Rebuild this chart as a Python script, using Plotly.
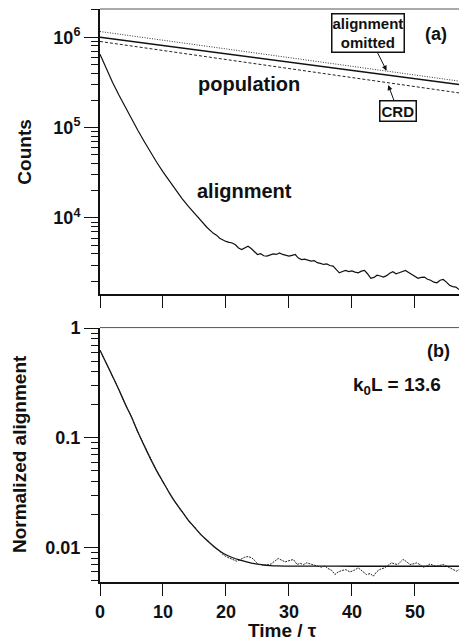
import plotly.graph_objects as go

# ---------------- data ----------------
# top panel: population decays (straight lines on log scale)
pop_t = [0, 57]
pop_solid = [1.0e6, 3.0e5]          # population
pop_omit = [1.156e6, 3.27e5]        # alignment omitted (dotted)
pop_crd = [8.97e5, 2.42e5]          # CRD (dashed)

# top panel: alignment counts
align_t = [0, 1, 2, 3, 4, 5, 6, 7, 8, 9, 10, 11, 12, 13, 14, 15, 16, 17, 18, 18.5,
           19.0, 19.5, 20.0, 20.5, 21.0, 21.5, 22.0, 22.5, 23.0, 23.5, 24.0, 24.5,
           25.0, 25.5, 26.0, 26.5, 27.0, 27.5, 28.0, 28.5, 29.0, 29.5, 30.0, 30.5,
           31.0, 31.5, 32.0, 32.5, 33.0, 33.5, 34.0, 34.5, 35.0, 35.5, 36.0, 36.5,
           37.0, 37.5, 38.0, 38.5, 39.0, 39.5, 40.0, 40.5, 41.0, 41.5, 42.0, 42.5,
           43.0, 43.5, 44.0, 44.5, 45.0, 45.5, 46.0, 46.5, 47.0, 47.5, 48.0, 48.5,
           49.0, 49.5, 50.0, 50.5, 51.0, 51.5, 52.0, 52.5, 53.0, 53.5, 54.0, 54.5,
           55.0, 55.5, 56.0, 56.5, 57.0]
align_counts = [646000, 447000, 316000, 229000, 168000, 124000, 93300, 70500, 53700,
                41400, 32400, 25600, 20400, 16500, 13500, 11200, 9330, 7850, 6760, 6450,
                5960, 5700, 5500, 5380, 5290, 5050, 4650, 4480, 4700, 4870, 4600, 4250,
                3940, 4020, 3820, 3780, 3900, 4000, 3950, 4100, 3950, 3850, 3780, 3860,
                3940, 3600, 3470, 3500, 3400, 3330, 3380, 3200, 3150, 3060, 3100, 2980,
                2930, 2700, 2470, 2560, 2630, 2550, 2600, 2520, 2470, 2580, 2630, 2400,
                2150, 2200, 2330, 2280, 2220, 2300, 2450, 2540, 2410, 2480, 2550, 2630,
                2500, 2380, 2250, 2150, 2200, 2220, 2100, 2050, 1950, 1920, 2050, 2090,
                1950, 1800, 1740, 1720, 1620]

# bottom panel: fit (solid)
fit_t = [0, 1, 2, 3, 4, 5, 6, 7, 8, 9, 10, 11, 12, 13, 14, 15, 16, 17, 18, 19, 20,
         21, 22, 23, 24, 25, 26, 27, 28, 30, 35, 40, 45, 50, 57]
fit_norm = [0.630, 0.479, 0.363, 0.275, 0.204, 0.155, 0.1135, 0.0851, 0.0646, 0.0501,
            0.0398, 0.0316, 0.0257, 0.0214, 0.0178, 0.0153, 0.0132, 0.0116, 0.01035,
            0.00933, 0.00861, 0.00813, 0.00776, 0.00750, 0.00724, 0.00708, 0.00695,
            0.00687, 0.00682, 0.00679, 0.00678, 0.00677, 0.00677, 0.00677, 0.00677]

# bottom panel: measured normalized alignment (dotted, noisy)
meas_t = [0, 1, 2, 3, 4, 5, 6, 7, 8, 9, 10, 11, 12, 13, 14, 15, 16, 17, 18,
          19.0, 19.6, 20.2, 20.8, 21.2, 21.7, 22.3, 23.0, 23.5, 24.1, 24.6, 25.1, 25.6,
          26.2, 26.7, 27.2, 27.8, 28.3, 28.8, 29.4, 30.0, 30.7, 31.3, 31.8, 32.3, 32.8,
          33.4, 33.9, 34.5, 35.2, 35.7, 36.2, 36.8, 37.3, 37.8, 38.4, 39.0, 39.7, 40.3,
          41.0, 41.6, 42.3, 42.9, 43.4, 43.9, 44.4, 45.2, 45.8, 46.3, 46.8, 47.3, 47.7,
          48.1, 48.6, 49.2, 49.7, 50.3, 50.8, 51.3, 51.9, 52.4, 52.9, 53.4, 54.0, 54.5,
          55.0, 55.6, 56.1, 56.6, 57.0]
meas_norm = [0.628, 0.481, 0.361, 0.276, 0.203, 0.156, 0.1130, 0.0855, 0.0642, 0.0504,
             0.0395, 0.0318, 0.0255, 0.0216, 0.0176, 0.0155, 0.0130, 0.0118, 0.0102,
             0.0093, 0.00855, 0.0082, 0.0079, 0.0078, 0.00753, 0.0078, 0.00819, 0.0083,
             0.00807, 0.0076, 0.00703, 0.0070, 0.00688, 0.0070, 0.00711, 0.0076, 0.00797,
             0.0077, 0.00742, 0.0076, 0.00780, 0.00703, 0.0072, 0.0070, 0.00727, 0.0071,
             0.00692, 0.0068, 0.00664, 0.0068, 0.00646, 0.0062, 0.00569, 0.0060, 0.00619,
             0.0063, 0.00601, 0.0062, 0.00655, 0.0061, 0.00569, 0.0058, 0.00550, 0.0060,
             0.00632, 0.00655, 0.0069, 0.00727, 0.0071, 0.00703, 0.0074, 0.00780, 0.0075,
             0.00703, 0.0071, 0.00727, 0.0070, 0.00664, 0.0068, 0.00711, 0.0069, 0.00678,
             0.0069, 0.00703, 0.0068, 0.00646, 0.0063, 0.00611, 0.0063]

x_ticks = [0, 10, 20, 30, 40, 50]
top_tickvals = [1e4, 1e5, 1e6]
top_ticktext = ["10<sup>4</sup>", "10<sup>5</sup>", "10<sup>6</sup>"]
bot_tickvals = [0.01, 0.1, 1]
bot_ticktext = ["0.01", "0.1", "1"]

# ---------------- figure ----------------
FONT = "Liberation Sans, Arial, Helvetica, sans-serif"
INK = "#111111"

fig = go.Figure()
fig.add_trace(go.Scatter(x=pop_t, y=pop_omit, mode="lines", xaxis="x", yaxis="y",
                         line=dict(color="#333", width=1, dash="1px,1.5px")))
fig.add_trace(go.Scatter(x=pop_t, y=pop_solid, mode="lines", xaxis="x", yaxis="y",
                         line=dict(color=INK, width=1.5)))
fig.add_trace(go.Scatter(x=pop_t, y=pop_crd, mode="lines", xaxis="x", yaxis="y",
                         line=dict(color="#222", width=1, dash="3px,2px")))
fig.add_trace(go.Scatter(x=align_t, y=align_counts, mode="lines", xaxis="x", yaxis="y",
                         line=dict(color=INK, width=1.2)))

fig.add_trace(go.Scatter(x=fit_t, y=fit_norm, mode="lines", xaxis="x2", yaxis="y2",
                         line=dict(color=INK, width=1.3, shape="spline", smoothing=0.6)))
fig.add_trace(go.Scatter(x=meas_t, y=meas_norm, mode="lines", xaxis="x2", yaxis="y2",
                         line=dict(color="#222", width=1, dash="2px,1px")))

def minor_vals(e0, e1):
    return [k * 10 ** e for e in range(e0, e1) for k in range(2, 10)]

common_x = dict(range=[0, 57], tickvals=x_ticks, ticks="outside", ticklen=12,
                tickwidth=1.3, tickcolor=INK, showline=True, linewidth=2,
                linecolor=INK, showgrid=False, zeroline=False)
common_y = dict(type="log", ticks="outside", ticklen=14, tickwidth=1.3, tickcolor=INK,
                showline=True, linewidth=2, linecolor=INK, showgrid=False,
                zeroline=False,
                tickfont=dict(family=FONT, size=18, color=INK, weight="bold"))

fig.update_layout(
    width=459, height=642,
    margin=dict(l=100, r=0, t=7, b=60),
    paper_bgcolor="white", plot_bgcolor="white",
    showlegend=False,
    xaxis=dict(domain=[0, 1], anchor="y", showticklabels=False, **common_x),
    xaxis2=dict(domain=[0, 1], anchor="y2", showticklabels=True,
                tickfont=dict(family=FONT, size=18, color=INK, weight="bold"),
                **common_x),
    yaxis=dict(domain=[0.5031, 1], anchor="x", range=[3.162, 6.312],
               tickvals=top_tickvals, ticktext=top_ticktext,
               minor=dict(tickmode="array", tickvals=minor_vals(3, 7), ticks="outside",
                          ticklen=7, tickwidth=1, tickcolor=INK),
               **common_y),
    yaxis2=dict(domain=[0, 0.444], anchor="x2", range=[-2.313, 0.005],
                tickvals=bot_tickvals, ticktext=bot_ticktext,
                minor=dict(tickmode="array", tickvals=minor_vals(-3, 0), ticks="outside",
                           ticklen=7, tickwidth=1, tickcolor=INK),
                **common_y),
)

# thin top borders of the two panels
for xr, yr in (("x domain", "y domain"), ("x2 domain", "y2 domain")):
    fig.add_shape(type="line", xref=xr, yref=yr, x0=0, x1=1, y0=1, y1=1,
                  line=dict(color="#555", width=1))

def txt(size):
    return dict(family=FONT, size=size, color=INK, weight="bold")

C = dict(xanchor="center", yanchor="middle")
ann = [
    dict(x=23.65, y=5.482, xref="x", yref="y", text="population", showarrow=False,
         font=txt(20), **C),
    dict(x=22.9, y=4.304, xref="x", yref="y", text="alignment", showarrow=False,
         font=txt(20), **C),
    dict(x=53.4, y=6.033, xref="x", yref="y", text="(a)", showarrow=False, font=txt(18),
         **C),
    dict(x=45.5, y=5.63, xref="x", yref="y", ax=42.5, ay=6.044, axref="x", ayref="y",
         text="alignment<br>omitted", showarrow=True, arrowhead=2, arrowsize=1,
         arrowwidth=1, arrowcolor=INK, font=txt(15), bordercolor=INK, borderwidth=1.5,
         borderpad=0, bgcolor="white"),
    dict(x=45.76, y=5.47, xref="x", yref="y", ax=47.3, ay=5.185, axref="x", ayref="y",
         text="CRD", showarrow=True, arrowhead=2, arrowsize=1, arrowwidth=1,
         arrowcolor=INK, font=txt(15), bordercolor=INK, borderwidth=1.5, borderpad=1,
         bgcolor="white"),
    dict(x=53.8, y=-0.207, xref="x2", yref="y2", text="(b)", showarrow=False,
         font=txt(18), **C),
    dict(x=47.2, y=-0.53, xref="x2", yref="y2", text="k<sub>0</sub>L = 13.6",
         showarrow=False, font=txt(19), **C),
    # axis titles
    dict(x=-0.209, y=0.751, xref="paper", yref="paper", text="Counts", textangle=-90,
         showarrow=False, font=txt(19), **C),
    dict(x=-0.226, y=0.223, xref="paper", yref="paper", text="Normalized alignment",
         textangle=-90, showarrow=False, font=txt(19), **C),
    dict(x=0.508, y=-0.085, xref="paper", yref="paper", text="Time / τ",
         showarrow=False, font=txt(19), **C),
]
fig.update_layout(annotations=ann)

fig.write_html("out.html")
